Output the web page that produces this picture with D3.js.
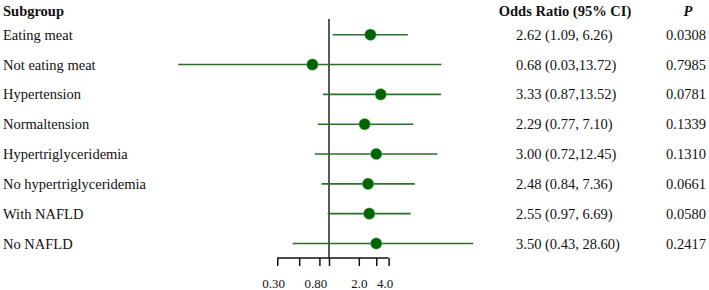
<!DOCTYPE html>
<html>
<head>
<meta charset="utf-8">
<script src="https://cdn.jsdelivr.net/npm/d3@7"></script>
<style>
  body { margin: 0; background: #fff; }
  text { font-family: "Liberation Serif", "Times New Roman", serif; fill: #111; }
</style>
</head>
<body>
<script>
var svgWidth = 709;
var svgHeight = 290;

var subgroups = ["Eating meat", "Not eating meat", "Hypertension", "Normaltension",
    "Hypertriglyceridemia", "No hypertriglyceridemia", "With NAFLD", "No NAFLD"];
var oddsRatio = [2.62, 0.68, 3.33, 2.29, 3.00, 2.48, 2.55, 3.00];
var ciLow = [1.09, 0.03, 0.87, 0.77, 0.72, 0.84, 0.97, 0.43];
var ciHigh = [6.26, 13.72, 13.52, 7.10, 12.45, 7.36, 6.69, 28.60];
var orLabels = ["2.62 (1.09, 6.26)", "0.68 (0.03,13.72)", "3.33 (0.87,13.52)", "2.29 (0.77, 7.10)",
    "3.00 (0.72,12.45)", "2.48 (0.84, 7.36)", "2.55 (0.97, 6.69)", "3.50 (0.43, 28.60)"];
var pValues = ["0.0308", "0.7985", "0.0781", "0.1339", "0.1310", "0.0661", "0.0580", "0.2417"];
var tickValues = [0.3, 0.5, 0.8, 1, 2, 3, 4];
var tickLabels = {0.3: "0.30", 0.8: "0.80", 2: "2.0", 4: "4.0"};

var svg = d3.select("body")
    .append("svg")
    .attr("width", svgWidth)
    .attr("height", svgHeight);

// log scale, 1.0 sits at the reference line
var xScale = d3.scaleLog()
    .domain([0.1, 10])
    .range([230, 428]);

var yScale = d3.scalePoint()
    .domain(d3.range(subgroups.length))
    .range([34.7, 243.5]);

var axisY = 258;

// headers
svg.append("text")
    .attr("x", 3).attr("y", 16)
    .attr("font-size", "14.5px").attr("font-weight", "bold")
    .text("Subgroup");
svg.append("text")
    .attr("x", 565).attr("y", 16)
    .attr("text-anchor", "middle")
    .attr("font-size", "14.5px").attr("font-weight", "bold")
    .text("Odds Ratio (95% CI)");
svg.append("text")
    .attr("x", 688).attr("y", 16)
    .attr("text-anchor", "middle")
    .attr("font-size", "14.5px").attr("font-weight", "bold").attr("font-style", "italic")
    .text("P");

// reference line at OR = 1
svg.append("line")
    .attr("x1", xScale(1)).attr("x2", xScale(1))
    .attr("y1", 19).attr("y2", axisY)
    .attr("stroke", "#222")
    .attr("stroke-width", 1.5);

var rows = svg.selectAll(".row")
    .data(subgroups).enter()
    .append("g")
    .attr("class", "row")
    .attr("transform", (d, i) => "translate(0," + yScale(i) + ")");

rows.append("text")
    .attr("x", 3).attr("dy", "0.35em")
    .attr("font-size", "14.5px")
    .text(d => d);

rows.append("text")
    .attr("x", 516).attr("dy", "0.35em")
    .attr("font-size", "14.5px")
    .text((d, i) => orLabels[i]);

rows.append("text")
    .attr("x", 666).attr("dy", "0.35em")
    .attr("font-size", "14.5px")
    .text((d, i) => pValues[i]);

rows.append("line")
    .attr("x1", (d, i) => xScale(ciLow[i]))
    .attr("x2", (d, i) => xScale(ciHigh[i]))
    .attr("stroke", "#2c6e2c")
    .attr("stroke-width", 1.6);

rows.append("circle")
    .attr("cx", (d, i) => xScale(oddsRatio[i]))
    .attr("r", 5.8)
    .attr("fill", "#006400")
    .attr("stroke", "#8fcf8f")
    .attr("stroke-opacity", 0.6)
    .attr("stroke-width", 0.8);

// x axis
var xAxis = d3.axisBottom(xScale)
    .tickValues(tickValues)
    .tickSize(8)
    .tickSizeOuter(0)
    .tickFormat(d => tickLabels[d] || "");

var axisG = svg.append("g")
    .attr("transform", "translate(0," + axisY + ")")
    .call(xAxis);

axisG.select(".domain")
    .attr("d", "M" + xScale(0.3) + ",0H" + xScale(4))
    .attr("stroke", "#111")
    .attr("stroke-width", 1.5);
axisG.selectAll(".tick line")
    .attr("stroke", "#111")
    .attr("stroke-width", 1.5);
axisG.selectAll(".tick text")
    .attr("y", 25)
    .attr("dy", "0.35em")
    .attr("dx", d => d === 2 ? 0 : -4)
    .attr("font-family", "Liberation Serif, serif")
    .attr("font-size", "13px")
    .attr("fill", "#111");
</script>
</body>
</html>
